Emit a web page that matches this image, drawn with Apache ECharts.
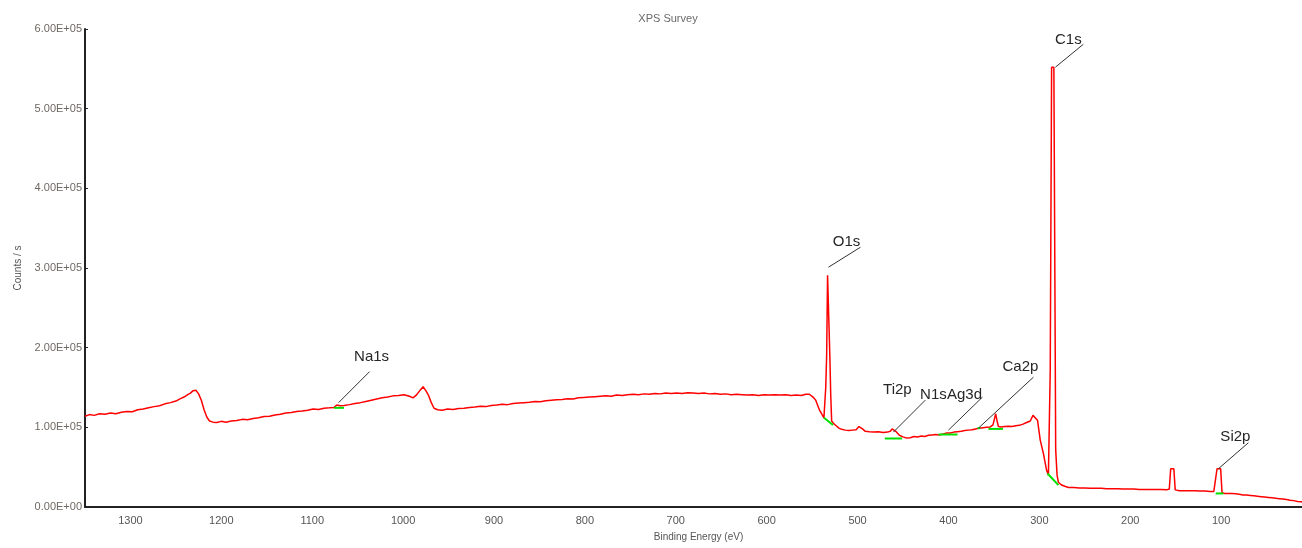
<!DOCTYPE html>
<html>
<head>
<meta charset="utf-8">
<script src="https://cdn.jsdelivr.net/npm/echarts@6/dist/echarts.min.js"></script>
<style>
html,body{margin:0;padding:0;background:#fff;overflow:hidden;width:1302px;height:548px;}
#chart{width:1312px;height:548px;}
</style>
</head>
<body>
<div id="chart"></div>
<script>
// ---------- DATA ----------
const chartTitle = 'XPS Survey';
const xAxisName = 'Binding Energy (eV)';
const yAxisName = 'Counts / s';
const xTicks = [1300, 1200, 1100, 1000, 900, 800, 700, 600, 500, 400, 300, 200, 100];
const yTicks = [0, 100000, 200000, 300000, 400000, 500000, 600000];

// [binding energy (eV), counts/s]
const spectrum = [
[1350,114e3],[1345,116e3],[1340,115e3],[1334,117e3],[1328,116.5e3],[1322,118e3],[1316,117e3],[1310,119e3],[1304,120e3],[1298,119.5e3],
[1292,122e3],[1286,123e3],[1280,124.5e3],[1274,126e3],[1268,127e3],[1262,129.5e3],[1256,131e3],[1250,133e3],[1245,136e3],[1241,138e3],
[1237,141e3],[1234,143e3],[1231,146e3],[1228,146.5e3],[1225,142e3],[1222,134e3],[1219,122e3],[1216,113e3],[1213,108e3],[1209,106.5e3],
[1205,106e3],[1200,107.5e3],[1195,106.5e3],[1189,108e3],[1183,108.5e3],[1177,110e3],[1171,109.5e3],[1165,111e3],[1159,112e3],[1153,113.5e3],
[1147,114e3],[1141,115.5e3],[1135,116.5e3],[1129,118e3],[1123,118.5e3],[1117,120e3],[1111,120.5e3],[1105,121.5e3],[1099,123e3],[1093,122.5e3],
[1087,124e3],[1081,124.5e3],[1076,125e3],[1073,128e3],[1071,130e3],[1069,127e3],[1065,127.5e3],[1059,128.5e3],[1053,130e3],[1047,131e3],
[1041,132.5e3],[1035,134e3],[1029,135.5e3],[1023,137e3],[1017,138e3],[1011,139.5e3],[1005,140e3],[999,141e3],[993,139e3],[989,137e3],
[985,141e3],[981,147e3],[978,151e3],[975,146e3],[972,140e3],[969,131e3],[966,124e3],[962,122e3],[957,121.5e3],[951,123e3],
[945,122.5e3],[939,123.5e3],[933,124e3],[927,125e3],[921,125.5e3],[915,126.5e3],[909,126e3],[903,127.5e3],[897,128e3],[891,129e3],
[885,128.5e3],[879,130e3],[873,130.5e3],[867,131e3],[861,131.5e3],[855,132.5e3],[849,132e3],[843,133.5e3],[837,134e3],[831,134.5e3],
[825,135e3],[819,136e3],[813,135.5e3],[807,137e3],[801,137.5e3],[795,138e3],[789,138.5e3],[783,139e3],[777,139.5e3],[771,139e3],
[765,140.5e3],[759,140e3],[753,141e3],[747,141.5e3],[741,141e3],[735,142e3],[729,141.5e3],[723,142.5e3],[717,142e3],[711,143e3],
[705,142.5e3],[699,143e3],[693,142.5e3],[687,143.5e3],[681,143e3],[675,142.5e3],[669,143e3],[663,142e3],[657,142.5e3],[651,141.5e3],
[645,142e3],[639,141e3],[633,141.5e3],[627,141e3],[621,140.5e3],[615,141e3],[609,140e3],[603,141e3],[597,140.5e3],[591,141e3],
[585,140.5e3],[579,141e3],[573,140e3],[567,140.5e3],[562,140e3],[557,141.5e3],[553,141.5e3],[549,138e3],[546,134e3],[542,122e3],
[539,116e3],[537,112e3],[535,150e3],[534,190e3],[533,291e3],[531.5,292e3],[530.5,190e3],[529.5,140e3],[528.5,108e3],[526.5,105e3],
[523.5,102e3],[520.5,99e3],[517.5,97.5e3],[513.5,96.5e3],[509.5,96e3],[505.5,96.5e3],[501.5,97e3],[498.5,101e3],[496.5,103e3],[494.5,98e3],
[491.5,95e3],[487,94.5e3],[482,94e3],[477,94.5e3],[472,93.5e3],[467,94e3],[464,95e3],[462,98e3],[460,99e3],[458,95e3],
[454,90e3],[450,88e3],[446,86.5e3],[442,87e3],[438,88.5e3],[434,88e3],[430,89e3],[426,88.5e3],[422,90e3],[418,90.5e3],
[414,91e3],[410,90.5e3],[406,91.5e3],[402,93e3],[400,95e3],[398,93e3],[394,94e3],[390,94.5e3],[386,95e3],[382,96e3],
[378,96.5e3],[374,97e3],[370,98e3],[366,99e3],[362,99.5e3],[358,100e3],[354,100.5e3],[351,103e3],[349.5,110e3],[348,117e3],
[346.5,108e3],[345,101e3],[342,100.5e3],[338,101e3],[334,101.5e3],[330,101e3],[326,102e3],[322,102.5e3],[318,104e3],[314,106e3],
[310,108e3],[307,115e3],[305,113e3],[302,109e3],[299,84e3],[295.5,67e3],[292,46e3],[290,40e3],[288.6,41e3],[288,172e3],
[286.5,552e3],[284,552e3],[282,72e3],[280.5,40e3],[279,31e3],[276,28e3],[272,26e3],[268,24.5e3],[262,24.5e3],[256,24e3],
[250,24e3],[244,23.5e3],[238,23.5e3],[232,23.5e3],[226,23e3],[220,23e3],[214,23e3],[208,22.5e3],[202,22.5e3],[196,22.5e3],
[190,22e3],[184,22e3],[178,22e3],[172,22e3],[166,22e3],[160,21.5e3],[157,22.5e3],[155.5,48e3],[152,48e3],[150.5,21.5e3],
[146,20.5e3],[140,20.5e3],[134,20.5e3],[128,20.5e3],[124,20e3],[118,20e3],[112,19.5e3],[108,19.5e3],[106,19e3],[104.5,48e3],
[100.5,48e3],[99,18e3],[96,17e3],[92,17e3],[88,17e3],[84,16.5e3],[80,16e3],[76,15e3],[72,15e3],[68,14.5e3],
[64,14e3],[60,13.5e3],[56,13e3],[52,12.5e3],[48,12e3],[44,11.5e3],[40,11e3],[36,10.5e3],[32,10e3],[28,9.5e3],
[24,8.5e3],[20,8e3],[16,7e3],[12,6.5e3],[8,6e3],[4,5e3]
];

// peak background regions (green): [[BE start, counts], [BE end, counts]]
const backgrounds = [
  [[1076,124.5e3],[1065,124.5e3]],
  [[537,112e3],[527,103e3]],
  [[470,86e3],[451,86e3]],
  [[411,91e3],[390,91e3]],
  [[368,99e3],[365,99e3]],
  [[356,98e3],[340,98e3]],
  [[291,42e3],[279,27.5e3]],
  [[106,17e3],[97.5,17e3]]
];

// peak annotations: name, anchor BE, anchor counts
const peakNames  = ['Na1s', 'O1s', 'Ti2p', 'N1s', 'Ag3d', 'Ca2p', 'C1s', 'Si2p'];
const peakBE     = [1071, 532, 460.6, 400, 368, 367, 282.4, 103];
const peakCounts = [131e3, 301e3, 94e3, 96.5e3, 99e3, 99e3, 552e3, 48e3];

// ---------- LAYOUT (pixels) ----------
// leader line [dx, dy] from anchor, then label centre relative to leader end
const leaderLayout = [
  {dx:31, dy:-31, tx:2,   ty:-15},
  {dx:32, dy:-20, tx:-14, ty:-5},
  {dx:32, dy:-32, tx:-28, ty:-10},
  {dx:34, dy:-33, tx:-49, ty:-2},
  {dx:0,  dy:0,   tx:-13, ty:-33},
  {dx:55, dy:-51, tx:-13, ty:-10},
  {dx:28, dy:-23, tx:-15, ty:-4},
  {dx:30, dy:-26, tx:-13, ty:-6}
];

function sci(v) {
  if (v === 0) return '0.00E+00';
  const e = Math.floor(Math.log10(Math.abs(v)) + 1e-9);
  const m = v / Math.pow(10, e);
  return m.toFixed(2) + 'E' + (e < 0 ? '-' : '+') + String(Math.abs(e)).padStart(2, '0');
}

const chart = echarts.init(document.getElementById('chart'), null, {renderer: 'canvas'});
const FONT = '"Liberation Sans", Arial, sans-serif';

const series = [{
  type: 'line',
  data: spectrum,
  showSymbol: false,
  symbol: 'none',
  lineStyle: {color: '#ff0000', width: 1.5},
  itemStyle: {color: '#ff0000'},
  z: 2,
  animation: false
}];

backgrounds.forEach(seg => {
  series.push({
    type: 'line',
    data: seg,
    showSymbol: false,
    symbol: 'none',
    lineStyle: {color: '#00e000', width: 2},
    z: 3,
    animation: false
  });
});

series.push({
  type: 'custom',
  data: peakBE.map((b, i) => [b, peakCounts[i], i]),
  z: 5,
  animation: false,
  clip: false,
  renderItem: function (params, api) {
    const i = api.value(2);
    const p = api.coord([api.value(0), api.value(1)]);
    const L = leaderLayout[i];
    const ex = p[0] + L.dx, ey = p[1] + L.dy;
    const children = [];
    if (L.dx !== 0 || L.dy !== 0) {
      children.push({
        type: 'line',
        shape: {x1: p[0], y1: p[1], x2: ex, y2: ey},
        style: {stroke: '#333333', lineWidth: 1}
      });
    }
    children.push({
      type: 'text',
      style: {
        text: peakNames[i],
        x: ex + L.tx,
        y: ey + L.ty,
        textAlign: 'center',
        textVerticalAlign: 'middle',
        font: '15px ' + FONT,
        fill: '#262626'
      }
    });
    return {type: 'group', children: children};
  }
});

chart.setOption({
  animation: false,
  backgroundColor: '#ffffff',
  title: {
    text: chartTitle,
    left: 663,
    top: 8,
    textAlign: 'center',
    textStyle: {fontSize: 11, fontWeight: 'normal', color: '#6a6a6a', fontFamily: FONT}
  },
  grid: {left: 85, right: 0, top: 29, bottom: 41, containLabel: false},
  xAxis: {
    type: 'value',
    inverse: true,
    min: 0,
    max: 1350,
    interval: 100,
    name: xAxisName,
    nameLocation: 'middle',
    nameGap: 25,
    nameTextStyle: {fontSize: 10, color: '#555', fontFamily: FONT},
    axisLine: {show: true, onZero: false, lineStyle: {color: '#222', width: 2}},
    axisTick: {show: false},
    splitLine: {show: false},
    axisLabel: {
      margin: 8,
      fontSize: 11,
      color: '#555',
      fontFamily: FONT,
      showMinLabel: false,
      showMaxLabel: false,
      formatter: v => (xTicks.indexOf(v) >= 0 ? String(v) : '')
    }
  },
  yAxis: {
    type: 'value',
    position: 'left',
    min: yTicks[0],
    max: yTicks[yTicks.length - 1],
    interval: yTicks[1] - yTicks[0],
    name: yAxisName,
    nameLocation: 'middle',
    nameGap: 60,
    nameRotate: 90,
    nameTextStyle: {fontSize: 10, color: '#555', fontFamily: FONT},
    axisLine: {show: true, onZero: false, lineStyle: {color: '#222', width: 2}},
    axisTick: {show: true, inside: true, length: 3, lineStyle: {color: '#222'}},
    splitLine: {show: false},
    axisLabel: {
      margin: 3,
      fontSize: 11,
      color: '#6e6862',
      fontFamily: FONT,
      formatter: v => sci(v)
    }
  },
  series: series
});
</script>
</body>
</html>
